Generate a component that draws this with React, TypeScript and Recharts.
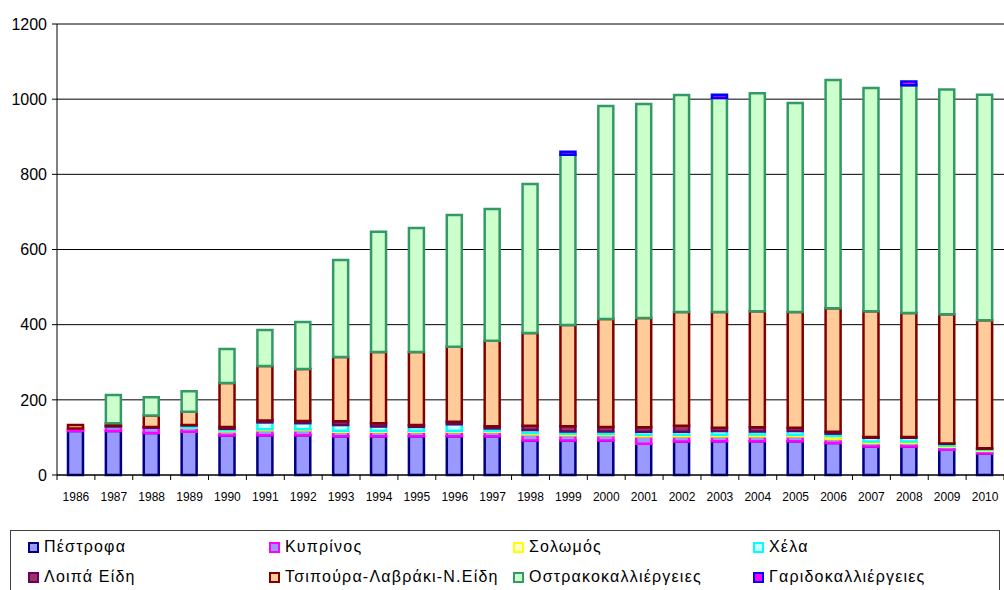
import React from "react";
import { BarChart, Bar, XAxis, YAxis, CartesianGrid } from "recharts";

const years = [
  "1986", "1987", "1988", "1989", "1990", "1991", "1992", "1993", "1994",
  "1995", "1996", "1997", "1998", "1999", "2000", "2001", "2002", "2003",
  "2004", "2005", "2006", "2007", "2008", "2009", "2010",
];

const pestrofa = [117, 117, 112, 115, 105, 106, 106, 103, 103, 103, 103, 103, 92, 92, 92, 83, 89, 90, 90, 90, 85, 76, 76, 67, 57];
const kyprinos = [7, 11, 14, 11, 11, 13, 13, 12, 12, 12, 12, 12, 16, 14, 14, 20, 14, 13, 13, 13, 11, 9, 9, 8, 7];
const solomos = [0, 0, 0, 1, 3, 3, 3, 3, 3, 3, 3, 3, 4, 4, 3, 4, 4, 4, 5, 4, 8, 4, 4, 3, 3];
const xela = [0, 1, 0, 5, 4, 18, 16, 15, 11, 10, 17, 6, 8, 6, 7, 8, 8, 10, 8, 10, 6, 10, 10, 5, 3];
const loipa = [0, 2, 2, 1, 5, 5, 6, 10, 9, 5, 7, 6, 11, 14, 12, 12, 16, 9, 11, 9, 5, 2, 2, 1, 1];
const tsipoura = [9, 7, 30, 35, 117, 145, 138, 171, 189, 194, 199, 227, 247, 269, 287, 291, 303, 308, 309, 308, 329, 335, 330, 344, 341];
const ostrako = [0, 75, 49, 55, 90, 96, 125, 258, 320, 330, 351, 351, 396, 453, 567, 569, 577, 569, 580, 556, 607, 594, 606, 598, 600];
const garides = [0, 0, 0, 0, 0, 0, 0, 0, 0, 0, 0, 0, 0, 8, 0, 0, 0, 9, 0, 0, 0, 0, 10, 0, 0];

const yTicks = [0, 200, 400, 600, 800, 1000, 1200];

const series = [
  { key: "pestrofa", name: "Πέστροφα", values: pestrofa, fill: "#9999FF", stroke: "#000080" },
  { key: "kyprinos", name: "Κυπρίνος", values: kyprinos, fill: "#9999FF", stroke: "#FF00FF" },
  { key: "solomos", name: "Σολωμός", values: solomos, fill: "#FFFFCC", stroke: "#FFFF00" },
  { key: "xela", name: "Χέλα", values: xela, fill: "#CCFFFF", stroke: "#00FFFF" },
  { key: "loipa", name: "Λοιπά Είδη", values: loipa, fill: "#993366", stroke: "#660066" },
  { key: "tsipoura", name: "Τσιπούρα-Λαβράκι-Ν.Είδη", values: tsipoura, fill: "#FFCC99", stroke: "#800000" },
  { key: "ostrako", name: "Οστρακοκαλλιέργειες", values: ostrako, fill: "#CCFFCC", stroke: "#339966" },
  { key: "garides", name: "Γαριδοκαλλιέργειες", values: garides, fill: "#FF00FF", stroke: "#0000FF" },
];

const data = years.map((year, i) => {
  const row: Record<string, string | number> = { year };
  series.forEach((s) => {
    row[s.key] = s.values[i];
  });
  return row;
});

const W = 1004;
const PLOT_LEFT = 57;
const PLOT_BOTTOM = 475;
const band = (W - PLOT_LEFT) / years.length;

const font = "'Liberation Sans', Arial, sans-serif";

function YearTick(props: any) {
  const { x, payload, index } = props;
  const left = x - band / 2;
  return (
    <g>
      <line x1={left} y1={PLOT_BOTTOM} x2={left} y2={PLOT_BOTTOM + 5} stroke="#000" />
      {index === years.length - 1 && (
        <line x1={x + band / 2} y1={PLOT_BOTTOM} x2={x + band / 2} y2={PLOT_BOTTOM + 5} stroke="#000" />
      )}
      <text x={x} y={PLOT_BOTTOM + 26} textAnchor="middle" fontSize={12} fontFamily={font} fill="#000">
        {payload.value}
      </text>
    </g>
  );
}

const legendCols = [27, 268, 512, 752];

export default function App() {
  return (
    <div style={{ position: "absolute", left: 0, top: 0, width: W, height: 590, overflow: "hidden", background: "#fff" }}>
      <BarChart width={W} height={515} data={data} margin={{ top: 24, right: 0, bottom: 15, left: 0 }}>
        <CartesianGrid vertical={false} stroke="#000" strokeWidth={1} />
        <XAxis
          dataKey="year"
          tick={<YearTick />}
          tickLine={false}
          axisLine={{ stroke: "#000" }}
          height={25}
          interval={0}
        />
        <YAxis
          domain={[0, 1200]}
          ticks={yTicks}
          width={PLOT_LEFT}
          tickSize={5}
          tickMargin={5}
          tickLine={{ stroke: "#000" }}
          axisLine={{ stroke: "#000" }}
          tick={{ fontSize: 16, fontFamily: font, fill: "#000" }}
        />
        {series.map((s) => (
          <Bar
            key={s.key}
            dataKey={s.key}
            name={s.name}
            stackId="a"
            fill={s.fill}
            stroke={s.stroke}
            strokeWidth={2.5}
            barSize={15}
            isAnimationActive={false}
          />
        ))}
      </BarChart>
      <div
        style={{
          position: "absolute",
          left: 10,
          top: 530,
          width: 990,
          height: 80,
          border: "1px solid #404040",
          boxSizing: "border-box",
          fontFamily: font,
          fontSize: 16,
          letterSpacing: 1.2,
          color: "#000",
        }}
      >
        {series.map((s, i) => (
          <div
            key={s.key}
            style={{
              position: "absolute",
              left: legendCols[i % 4] - 10,
              top: i < 4 ? 6 : 36,
              display: "flex",
              alignItems: "center",
              height: 20,
              whiteSpace: "nowrap",
            }}
          >
            <span
              style={{
                display: "inline-block",
                width: 7,
                height: 7,
                border: `2px solid ${s.stroke}`,
                background: s.fill,
                marginRight: 5,
              }}
            />
            <span>{s.name}</span>
          </div>
        ))}
      </div>
    </div>
  );
}
